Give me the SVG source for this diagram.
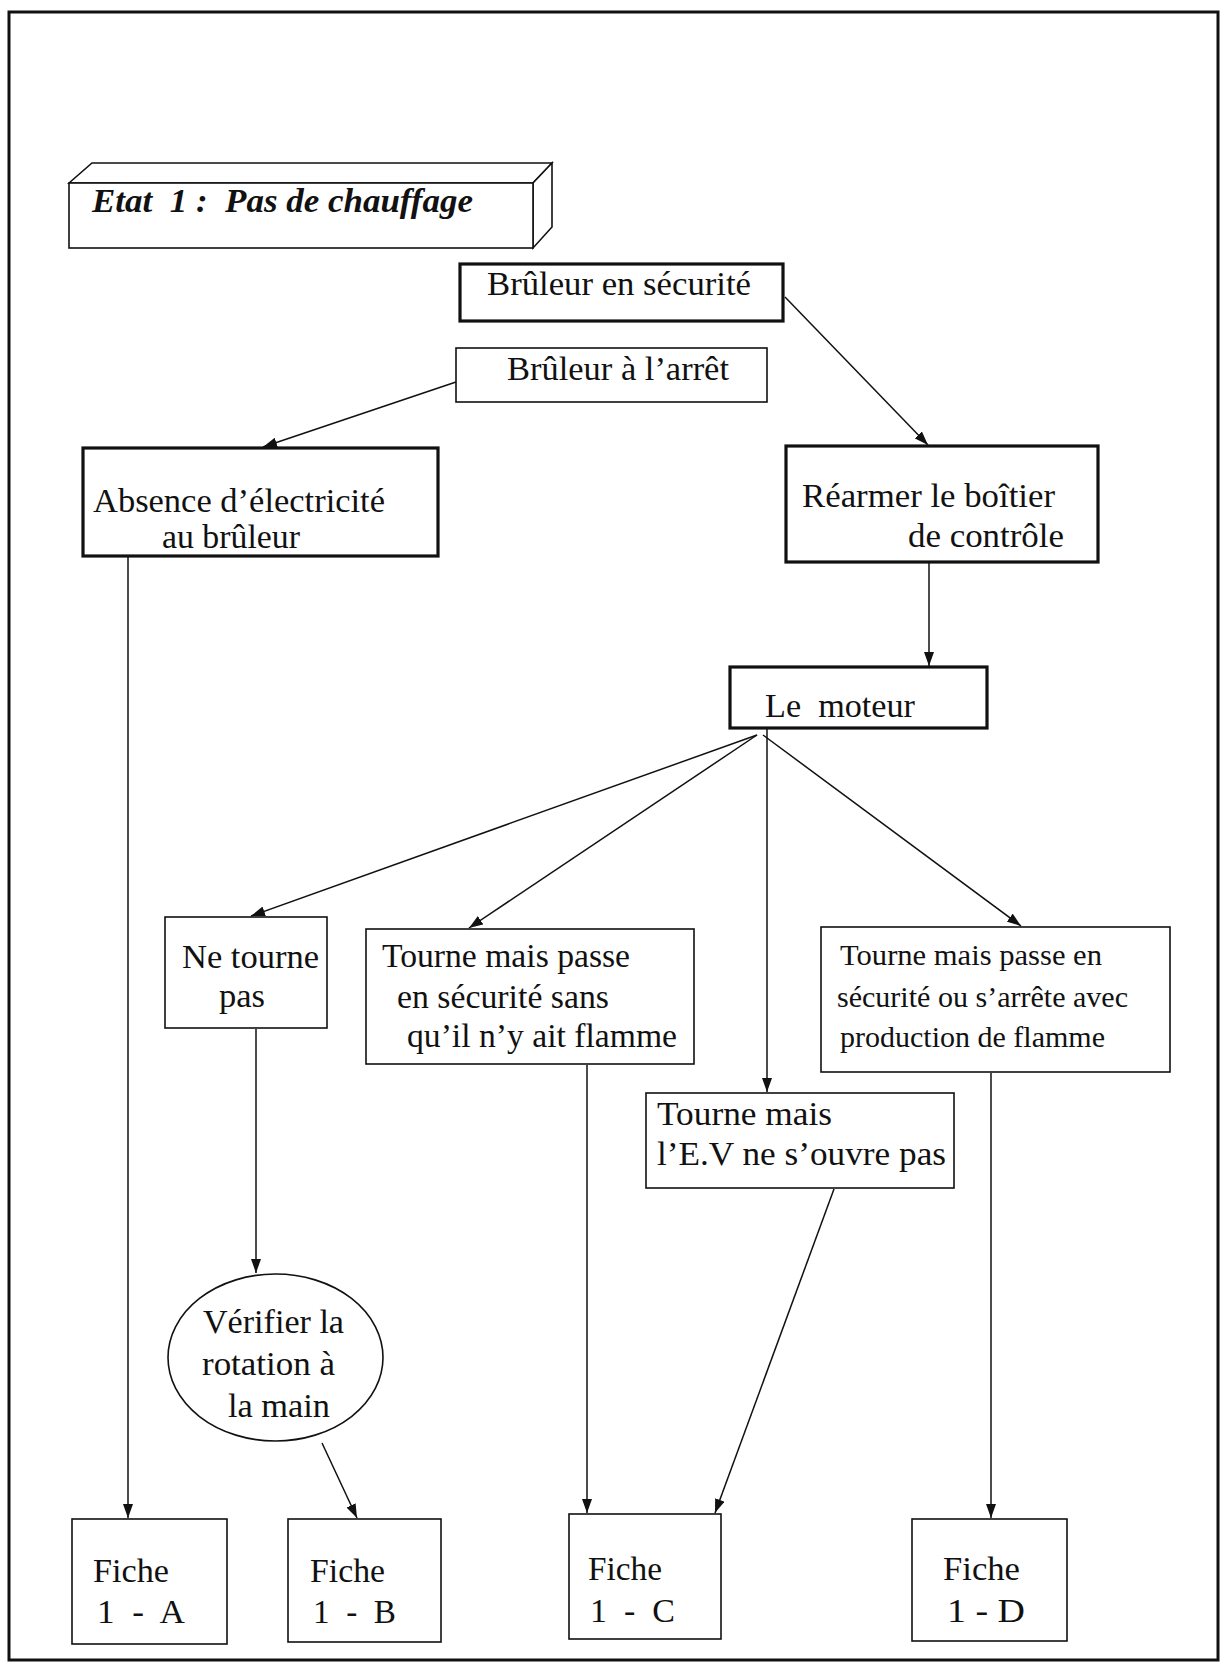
<svg xmlns="http://www.w3.org/2000/svg" width="1229" height="1670" viewBox="0 0 1229 1670">
<style>
  .bg { fill: #ffffff; }
  .frame { fill: none; stroke: #111; stroke-width: 3; }
  .box { fill: #ffffff; stroke: #111; stroke-width: 1.6; }
  .thick { fill: #ffffff; stroke: #111; stroke-width: 3.2; }
  .t { font-family: "Liberation Serif", "Times New Roman", serif; font-size: 33px; fill: #111; }
  .s { font-size: 29px; }
  .title { font-weight: bold; font-style: italic; }
  .conn line { stroke: #111; stroke-width: 1.5; marker-end: url(#ah); }
</style>
<defs>
  <marker id="ah" viewBox="0 0 14 10" refX="14" refY="5" markerWidth="14" markerHeight="10" orient="auto" markerUnits="userSpaceOnUse">
    <path d="M0,0 L14,5 L0,10 z" fill="#111"/>
  </marker>
</defs>
<rect class="bg" x="0" y="0" width="1229" height="1670"/>
<rect class="frame" x="9" y="12" width="1209" height="1648"/>

<g id="title">
  <polygon class="box" points="69,183 92,163 552,163 533,183"/>
  <polygon class="box" points="533,183 552,163 552,227 533,248"/>
  <rect class="box" x="69" y="183" width="464" height="65"/>
  <text class="t title" x="92" y="212" textLength="381" lengthAdjust="spacingAndGlyphs" xml:space="preserve">Etat  1 :  Pas de chauffage</text>
</g>

<g id="bruleur-securite">
  <rect class="thick" x="460" y="264" width="323" height="57"/>
  <text class="t" x="487" y="295" textLength="264" lengthAdjust="spacingAndGlyphs">Brûleur en sécurité</text>
</g>

<g id="bruleur-arret">
  <rect class="box" x="456" y="348" width="311" height="54"/>
  <text class="t" x="507" y="380" textLength="222" lengthAdjust="spacingAndGlyphs">Brûleur à l’arrêt</text>
</g>

<g id="absence">
  <rect class="thick" x="83" y="448" width="355" height="108"/>
  <text class="t" x="93" y="512" textLength="292" lengthAdjust="spacingAndGlyphs">Absence d’électricité</text>
  <text class="t" x="162" y="548" textLength="138" lengthAdjust="spacingAndGlyphs">au brûleur</text>
</g>

<g id="rearmer">
  <rect class="thick" x="786" y="446" width="312" height="116"/>
  <text class="t" x="802" y="507" textLength="253" lengthAdjust="spacingAndGlyphs">Réarmer le boîtier</text>
  <text class="t" x="908" y="547" textLength="156" lengthAdjust="spacingAndGlyphs">de contrôle</text>
</g>

<g id="moteur">
  <rect class="thick" x="730" y="667" width="257" height="61"/>
  <text class="t" x="765" y="717" textLength="150" lengthAdjust="spacingAndGlyphs" xml:space="preserve">Le  moteur</text>
</g>

<g id="ne-tourne">
  <rect class="box" x="165" y="917" width="162" height="111"/>
  <text class="t" x="182" y="968" textLength="137" lengthAdjust="spacingAndGlyphs">Ne tourne</text>
  <text class="t" x="219" y="1007" textLength="46" lengthAdjust="spacingAndGlyphs">pas</text>
</g>

<g id="tourne-sans-flamme">
  <rect class="box" x="366" y="929" width="328" height="135"/>
  <text class="t" x="382" y="967" textLength="248" lengthAdjust="spacingAndGlyphs">Tourne mais passe</text>
  <text class="t" x="397" y="1008" textLength="212" lengthAdjust="spacingAndGlyphs">en sécurité sans</text>
  <text class="t" x="407" y="1047" textLength="270" lengthAdjust="spacingAndGlyphs">qu’il n’y ait flamme</text>
</g>

<g id="tourne-ev">
  <rect class="box" x="646" y="1093" width="308" height="95"/>
  <text class="t" x="657" y="1125" textLength="175" lengthAdjust="spacingAndGlyphs">Tourne mais</text>
  <text class="t" x="657" y="1165" textLength="289" lengthAdjust="spacingAndGlyphs">l’E.V ne s’ouvre pas</text>
</g>

<g id="tourne-avec-flamme">
  <rect class="box" x="821" y="927" width="349" height="145"/>
  <text class="t s" x="840" y="965" textLength="262" lengthAdjust="spacingAndGlyphs">Tourne mais passe en</text>
  <text class="t s" x="837" y="1007" textLength="291" lengthAdjust="spacingAndGlyphs">sécurité ou s’arrête avec</text>
  <text class="t s" x="840" y="1047" textLength="265" lengthAdjust="spacingAndGlyphs">production de flamme</text>
</g>

<g id="verifier">
  <ellipse class="box" cx="275.5" cy="1357.5" rx="107.5" ry="83.5"/>
  <text class="t" x="203" y="1333" textLength="141" lengthAdjust="spacingAndGlyphs">Vérifier la</text>
  <text class="t" x="202" y="1375" textLength="133" lengthAdjust="spacingAndGlyphs">rotation à</text>
  <text class="t" x="228" y="1417" textLength="102" lengthAdjust="spacingAndGlyphs">la main</text>
</g>

<g id="fiche-1a">
  <rect class="box" x="72" y="1519" width="155" height="125"/>
  <text class="t" x="93" y="1582" textLength="76" lengthAdjust="spacingAndGlyphs">Fiche</text>
  <text class="t" x="97" y="1623" textLength="88" lengthAdjust="spacingAndGlyphs" xml:space="preserve">1  -  A</text>
</g>

<g id="fiche-1b">
  <rect class="box" x="288" y="1519" width="153" height="123"/>
  <text class="t" x="310" y="1582" textLength="75" lengthAdjust="spacingAndGlyphs">Fiche</text>
  <text class="t" x="313" y="1623" textLength="83" lengthAdjust="spacingAndGlyphs" xml:space="preserve">1  -  B</text>
</g>

<g id="fiche-1c">
  <rect class="box" x="569" y="1514" width="152" height="125"/>
  <text class="t" x="588" y="1580" textLength="74" lengthAdjust="spacingAndGlyphs">Fiche</text>
  <text class="t" x="590" y="1622" textLength="85" lengthAdjust="spacingAndGlyphs" xml:space="preserve">1  -  C</text>
</g>

<g id="fiche-1d">
  <rect class="box" x="912" y="1519" width="155" height="122"/>
  <text class="t" x="943" y="1580" textLength="77" lengthAdjust="spacingAndGlyphs">Fiche</text>
  <text class="t" x="947" y="1622" textLength="78" lengthAdjust="spacingAndGlyphs">1 - D</text>
</g>

<g id="connectors" class="conn">
  <line x1="456" y1="382" x2="263" y2="447"/>
  <line x1="785" y1="297" x2="928" y2="445"/>
  <line x1="929" y1="562" x2="929" y2="666"/>
  <line x1="757" y1="735" x2="251" y2="916"/>
  <line x1="757" y1="735" x2="469" y2="928"/>
  <line x1="767" y1="729" x2="767" y2="1092"/>
  <line x1="763" y1="735" x2="1021" y2="926"/>
  <line x1="128" y1="557" x2="128" y2="1518"/>
  <line x1="256" y1="1029" x2="256" y2="1273"/>
  <line x1="322" y1="1443" x2="357" y2="1518"/>
  <line x1="587" y1="1065" x2="587" y2="1513"/>
  <line x1="834" y1="1189" x2="715" y2="1513"/>
  <line x1="991" y1="1073" x2="991" y2="1518"/>
</g>
</svg>
